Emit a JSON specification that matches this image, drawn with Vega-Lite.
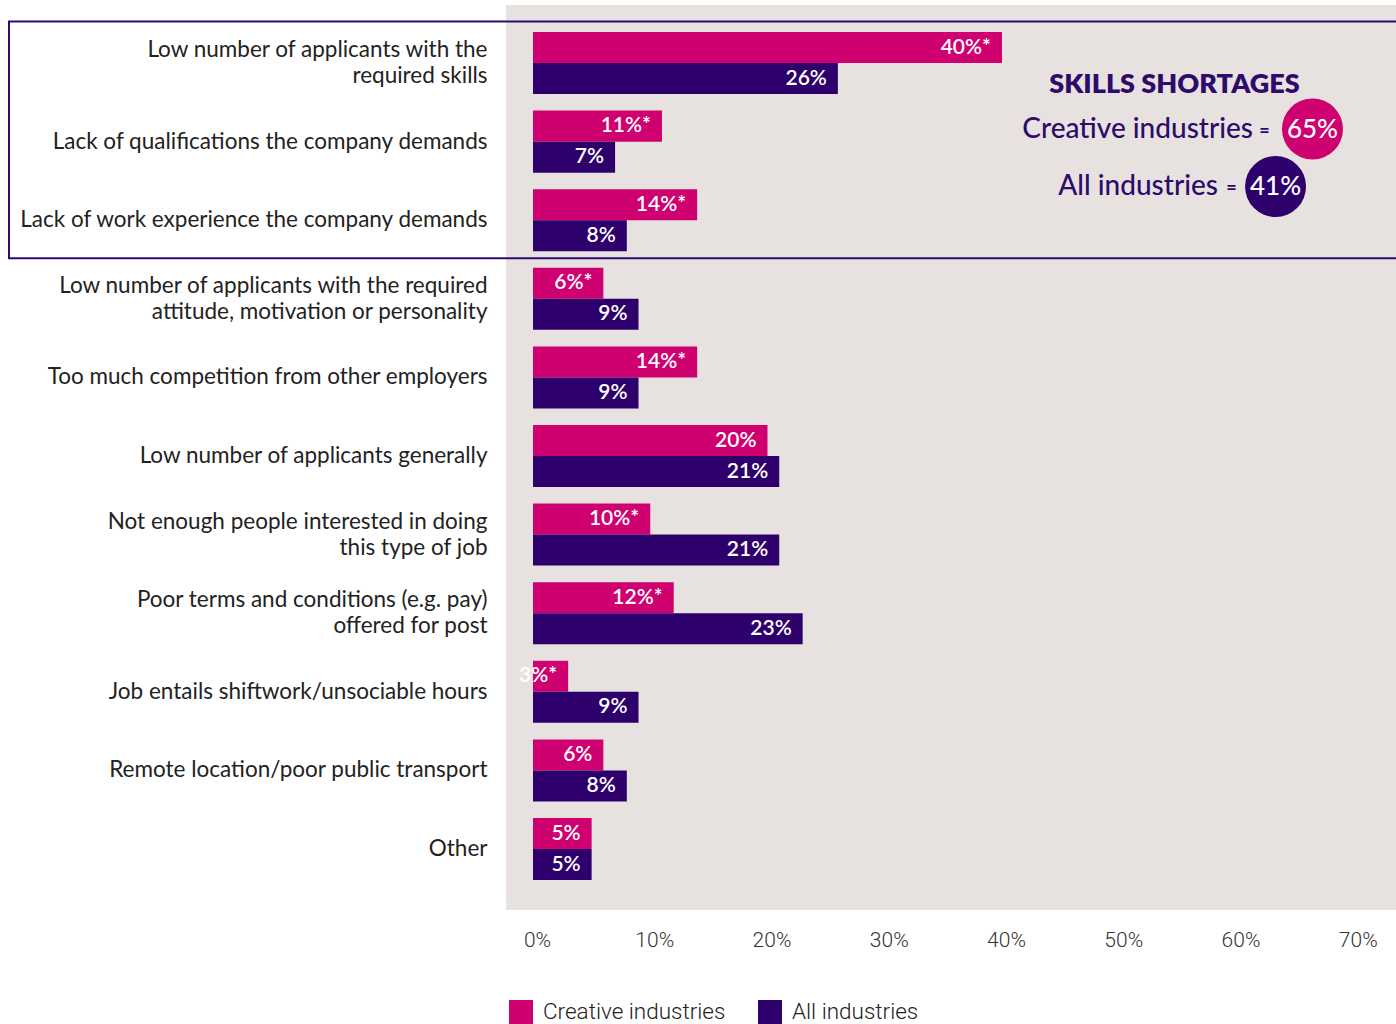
{
  "$schema": "https://vega.github.io/schema/vega-lite/v6.json",
  "width": 890,
  "height": 905,
  "autosize": {"type": "none"},
  "padding": {"left": 506, "top": 5, "right": 0, "bottom": 114},
  "background": "#ffffff",
  "config": {
    "view": {"fill": "#e7e2df", "stroke": null},
    "font": "Lato"
  },
  "datasets": {
    "survey": [
      {"reason": "Low number of applicants with the\nrequired skills", "series": "Creative industries", "value": 40, "label": "40%*"},
      {"reason": "Low number of applicants with the\nrequired skills", "series": "All industries", "value": 26, "label": "26%"},
      {"reason": "Lack of qualifications the company demands", "series": "Creative industries", "value": 11, "label": "11%*"},
      {"reason": "Lack of qualifications the company demands", "series": "All industries", "value": 7, "label": "7%"},
      {"reason": "Lack of work experience the company demands", "series": "Creative industries", "value": 14, "label": "14%*"},
      {"reason": "Lack of work experience the company demands", "series": "All industries", "value": 8, "label": "8%"},
      {"reason": "Low number of applicants with the required\nattitude, motivation or personality", "series": "Creative industries", "value": 6, "label": "6%*"},
      {"reason": "Low number of applicants with the required\nattitude, motivation or personality", "series": "All industries", "value": 9, "label": "9%"},
      {"reason": "Too much competition from other employers", "series": "Creative industries", "value": 14, "label": "14%*"},
      {"reason": "Too much competition from other employers", "series": "All industries", "value": 9, "label": "9%"},
      {"reason": "Low number of applicants generally", "series": "Creative industries", "value": 20, "label": "20%"},
      {"reason": "Low number of applicants generally", "series": "All industries", "value": 21, "label": "21%"},
      {"reason": "Not enough people interested in doing\nthis type of job", "series": "Creative industries", "value": 10, "label": "10%*"},
      {"reason": "Not enough people interested in doing\nthis type of job", "series": "All industries", "value": 21, "label": "21%"},
      {"reason": "Poor terms and conditions (e.g. pay)\noffered for post", "series": "Creative industries", "value": 12, "label": "12%*"},
      {"reason": "Poor terms and conditions (e.g. pay)\noffered for post", "series": "All industries", "value": 23, "label": "23%"},
      {"reason": "Job entails shiftwork/unsociable hours", "series": "Creative industries", "value": 3, "label": "3%*"},
      {"reason": "Job entails shiftwork/unsociable hours", "series": "All industries", "value": 9, "label": "9%"},
      {"reason": "Remote location/poor public transport", "series": "Creative industries", "value": 6, "label": "6%"},
      {"reason": "Remote location/poor public transport", "series": "All industries", "value": 8, "label": "8%"},
      {"reason": "Other", "series": "Creative industries", "value": 5, "label": "5%"},
      {"reason": "Other", "series": "All industries", "value": 5, "label": "5%"}
    ]
  },
  "layer": [
    {
      "data": {"name": "survey"},
      "encoding": {
        "y": {
          "field": "reason", "type": "nominal", "sort": null,
          "scale": {"paddingInner": 0.211, "paddingOuter": 0.3627, "align": 0.474},
          "axis": {"title": null, "ticks": false, "tickSize": 0, "domain": false, "grid": false,
                   "labelPadding": 19, "labelFont": "Lato", "labelFontSize": 22.5, "labelColor": "#222222",
                   "labelLineHeight": 26, "labelLimit": 0, "labelExpr": "split(datum.label, '\\n')",
                   "labelOffset": {"condition": {"test": "indexof(datum.value, '\\n') >= 0", "value": -13}, "value": 0}}
        },
        "yOffset": {"field": "series", "type": "nominal", "sort": ["Creative industries", "All industries"]},
        "x": {
          "field": "value", "type": "quantitative",
          "scale": {"domain": [-2.3028, 73.603], "nice": false, "zero": false},
          "axis": {"title": null, "values": [0, 10, 20, 30, 40, 50, 60, 70], "labelExpr": "datum.value + '%'",
                   "ticks": false, "tickSize": 0, "domain": false, "grid": false, "labelPadding": 19,
                   "labelOffset": 4, "labelFont": "Roboto", "labelFontWeight": 300, "labelFontSize": 21,
                   "labelColor": "#333333", "labelFlush": false, "labelOverlap": false}
        }
      },
      "layer": [
        {
          "mark": {"type": "bar"},
          "encoding": {
            "color": {
              "field": "series", "type": "nominal",
              "scale": {"domain": ["Creative industries", "All industries"], "range": ["#cf0070", "#2e006c"]},
              "legend": {"title": null, "orient": "none", "legendX": 3, "legendY": 995, "direction": "horizontal",
                         "symbolType": "square", "symbolSize": 576, "symbolStrokeWidth": 0, "symbolOpacity": 1,
                         "labelFont": "Roboto", "labelFontWeight": 300, "labelFontSize": 22.5, "labelColor": "#222222",
                         "labelOffset": 10, "columnPadding": 32, "padding": 0, "labelLimit": 0}
            }
          }
        },
        {
          "mark": {"type": "text", "align": "right", "baseline": "middle", "dx": -11, "color": "#ffffff",
                   "font": "Lato", "fontSize": 21, "fontWeight": 600},
          "encoding": {"text": {"field": "label"}}
        }
      ]
    },
    {
      "data": {"values": [{}]},
      "layer": [
        {
          "mark": {"type": "rect", "fill": "transparent", "stroke": "#2e0a6e", "strokeWidth": 2},
          "encoding": {
            "x": {"datum": -44.69, "type": "quantitative", "scale": {"domain": [-2.3028, 73.603], "nice": false, "zero": false}},
            "x2": {"datum": 75},
            "y": {"datum": -0.522, "type": "quantitative", "scale": {"domain": [-0.7316, 10.782], "reverse": true, "nice": false, "zero": false}, "axis": null},
            "y2": {"datum": 2.491}
          }
        },
        {
          "mark": {"type": "text", "text": "SKILLS SHORTAGES", "align": "center", "baseline": "alphabetic",
                   "font": "Lato", "fontSize": 27, "fontWeight": 800, "color": "#2e0a6b"},
          "encoding": {
            "x": {"datum": 54.71, "type": "quantitative"},
            "y": {"datum": 0.384, "type": "quantitative", "axis": null}
          }
        },
        {
          "mark": {"type": "text", "text": "Creative industries", "align": "right", "baseline": "alphabetic",
                   "font": "Lato", "fontSize": 28, "fontWeight": 500, "color": "#2e0a6b"},
          "encoding": {
            "x": {"datum": 61.41, "type": "quantitative"},
            "y": {"datum": 0.957, "type": "quantitative", "axis": null}
          }
        },
        {
          "mark": {"type": "text", "text": "=", "align": "center", "baseline": "alphabetic",
                   "font": "Lato", "fontSize": 18, "fontWeight": 700, "color": "#2e0a6b"},
          "encoding": {
            "x": {"datum": 62.39, "type": "quantitative"},
            "y": {"datum": 0.945, "type": "quantitative", "axis": null}
          }
        },
        {
          "mark": {"type": "point", "shape": "circle", "filled": true, "size": 3721, "color": "#cf0070", "opacity": 1},
          "encoding": {
            "x": {"datum": 66.48, "type": "quantitative"},
            "y": {"datum": 0.846, "type": "quantitative", "axis": null}
          }
        },
        {
          "mark": {"type": "text", "text": "65%", "align": "center", "baseline": "alphabetic",
                   "font": "Lato", "fontSize": 26, "fontWeight": 500, "color": "#ffffff"},
          "encoding": {
            "x": {"datum": 66.48, "type": "quantitative"},
            "y": {"datum": 0.96, "type": "quantitative", "axis": null}
          }
        },
        {
          "mark": {"type": "text", "text": "All industries", "align": "right", "baseline": "alphabetic",
                   "font": "Lato", "fontSize": 28, "fontWeight": 500, "color": "#2e0a6b"},
          "encoding": {
            "x": {"datum": 58.42, "type": "quantitative"},
            "y": {"datum": 1.686, "type": "quantitative", "axis": null}
          }
        },
        {
          "mark": {"type": "text", "text": "=", "align": "center", "baseline": "alphabetic",
                   "font": "Lato", "fontSize": 18, "fontWeight": 700, "color": "#2e0a6b"},
          "encoding": {
            "x": {"datum": 59.57, "type": "quantitative"},
            "y": {"datum": 1.674, "type": "quantitative", "axis": null}
          }
        },
        {
          "mark": {"type": "point", "shape": "circle", "filled": true, "size": 3721, "color": "#2e006c", "opacity": 1},
          "encoding": {
            "x": {"datum": 63.33, "type": "quantitative"},
            "y": {"datum": 1.578, "type": "quantitative", "axis": null}
          }
        },
        {
          "mark": {"type": "text", "text": "41%", "align": "center", "baseline": "alphabetic",
                   "font": "Lato", "fontSize": 26, "fontWeight": 500, "color": "#ffffff"},
          "encoding": {
            "x": {"datum": 63.33, "type": "quantitative"},
            "y": {"datum": 1.686, "type": "quantitative", "axis": null}
          }
        }
      ]
    }
  ],
  "resolve": {"scale": {"y": "independent"}}
}
